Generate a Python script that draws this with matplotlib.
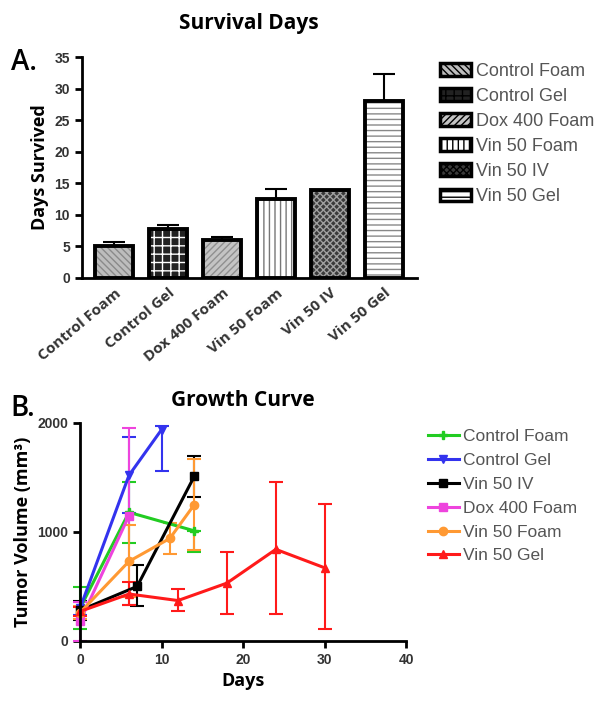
import numpy as np
import matplotlib
matplotlib.use("Agg")
import matplotlib.pyplot as plt
from matplotlib.patches import Rectangle
from matplotlib.lines import Line2D

# survival data
groups = ["Control Foam", "Control Gel", "Dox 400 Foam", "Vin 50 Foam", "Vin 50 IV", "Vin 50 Gel"]
days_mean = [5.0, 7.8, 6.0, 12.5, 14.0, 28.0]
days_err = [0.6, 0.5, 0.4, 1.6, 0.0, 4.3]
bar_face = ["#bdbdbd", "#222222", "#c4c4c4", "#ffffff", "#3a3a3a", "#ffffff"]
bar_hatch = ["\\\\\\\\\\", "++", "/////", "|||", "xxxxx", "---"]
bar_hatch_col = ["#8a8a8a", "#ffffff", "#8f8f8f", "#777777", "#a0a0a0", "#888888"]

# growth curve data
curve_names = ["Control Foam", "Control Gel", "Vin 50 IV", "Dox 400 Foam", "Vin 50 Foam", "Vin 50 Gel"]
curve_colors = ["#22cc22", "#3333ee", "#000000", "#ee44dd", "#ff9933", "#ff1a1a"]
curve_markers = ["P", "v", "s", "s", "o", "^"]
cf_x = [0, 6, 14]
cf_y = [300, 1180, 1010]
cf_lo = [190, 280, 190]
cf_hi = [190, 280, 0]
cg_x = [0, 6, 10]
cg_y = [300, 1520, 1940]
cg_lo = [60, 350, 380]
cg_hi = [60, 350, 30]
iv_x = [0, 7, 14]
iv_y = [280, 500, 1510]
iv_lo = [90, 180, 190]
iv_hi = [90, 200, 190]
dx_x = [0, 6]
dx_y = [180, 1150]
dx_lo = [180, 820]
dx_hi = [180, 800]
vf_x = [0, 6, 11, 14]
vf_y = [260, 730, 940, 1250]
vf_lo = [60, 330, 140, 420]
vf_hi = [60, 330, 140, 420]
vg_x = [0, 6, 12, 18, 24, 30]
vg_y = [270, 430, 370, 530, 840, 670]
vg_lo = [40, 100, 100, 280, 590, 560]
vg_hi = [40, 110, 110, 290, 620, 590]
curves = [(cf_x, cf_y, cf_lo, cf_hi), (cg_x, cg_y, cg_lo, cg_hi), (iv_x, iv_y, iv_lo, iv_hi),
          (dx_x, dx_y, dx_lo, dx_hi), (vf_x, vf_y, vf_lo, vf_hi), (vg_x, vg_y, vg_lo, vg_hi)]

title_font = "Open Sans"
tick_font = "Liberation Sans"

fig = plt.figure(figsize=(6.02, 7.05), dpi=100)

## A. survival bars
ax1 = fig.add_axes([0.136, 0.606, 0.556, 0.313])
x = np.arange(len(groups))
plt.rcParams["hatch.linewidth"] = 1.0
for i in range(len(groups)):
    ax1.bar(x[i], days_mean[i], width=0.7, color=bar_face[i], hatch=bar_hatch[i],
            edgecolor=bar_hatch_col[i], linewidth=0, zorder=2)
    ax1.bar(x[i], days_mean[i], width=0.7, fill=False, edgecolor="black", linewidth=2.8, zorder=3)
    if days_err[i] > 0:
        ax1.errorbar(x[i], days_mean[i], yerr=[[0], [days_err[i]]], fmt="none",
                     ecolor="black", elinewidth=1.5, capsize=8, capthick=1.5, zorder=1)
ax1.set_xlim(-0.6, 5.6)
ax1.set_ylim(0, 35)
ax1.set_yticks(range(0, 36, 5))
ax1.set_xticks(x)
ax1.set_xticklabels(groups, rotation=40, ha="right", rotation_mode="anchor",
                    fontsize=11, fontweight="bold", family=title_font, color="#333333")
for lbl in ax1.get_yticklabels():
    lbl.set_fontweight("bold")
    lbl.set_family(tick_font)
    lbl.set_fontsize(10)
    lbl.set_color("#333333")
ax1.spines["top"].set_visible(False)
ax1.spines["right"].set_visible(False)
ax1.spines["left"].set_linewidth(2)
ax1.spines["bottom"].set_linewidth(2)
ax1.tick_params(axis="y", width=2, length=5)
ax1.tick_params(axis="x", length=0, pad=6)
ax1.set_ylabel("Days Survived", fontsize=13, fontweight="bold", family=title_font)
ax1.set_title("Survival Days", fontsize=15, fontweight="bold", family=title_font, pad=20)

# legend for bars
handles = []
for i in range(len(groups)):
    handles.append(Rectangle((0, 0), 1, 1, facecolor=bar_face[i], hatch=bar_hatch[i],
                             edgecolor="black", linewidth=2.5))
leg1 = ax1.legend(handles, groups, loc="upper left", bbox_to_anchor=(1.069, 0.975),
                  frameon=False, borderpad=0, borderaxespad=0,
                  handlelength=1.75, handleheight=0.7, labelspacing=0.45,
                  handletextpad=0.25, prop={"family": tick_font, "size": 13})
for t in leg1.get_texts():
    t.set_color("#555555")

fig.text(0.018, 0.9, "A.", fontsize=20, family=title_font, fontweight="semibold")

## B. growth curve
ax2 = fig.add_axes([0.133, 0.091, 0.542, 0.309])
for (cx, cy, lo, hi), name, col, mk in zip(curves, curve_names, curve_colors, curve_markers):
    ax2.errorbar(cx, cy, yerr=[lo, hi], color=col, marker=mk, markersize=6, linewidth=2.2,
                 elinewidth=1.5, capsize=5, capthick=1.5, clip_on=False)
ax2.set_xlim(0, 40)
ax2.set_ylim(0, 2000)
ax2.set_xticks([0, 10, 20, 30, 40])
ax2.set_yticks([0, 1000, 2000])
for lbl in ax2.get_xticklabels() + ax2.get_yticklabels():
    lbl.set_fontweight("bold")
    lbl.set_family(tick_font)
    lbl.set_fontsize(10)
    lbl.set_color("#333333")
ax2.spines["top"].set_visible(False)
ax2.spines["right"].set_visible(False)
ax2.spines["left"].set_linewidth(2)
ax2.spines["bottom"].set_linewidth(2)
ax2.tick_params(width=2, length=5)
ax2.set_xlabel("Days", fontsize=13, fontweight="bold", family=title_font)
ax2.set_ylabel("Tumor Volume (mm³)", fontsize=13, fontweight="bold", family=title_font)
ax2.set_title("Growth Curve", fontsize=15, fontweight="bold", family=title_font, pad=12)
line_handles = [Line2D([], [], color=c, marker=m, markersize=6, linewidth=2.2)
                for c, m in zip(curve_colors, curve_markers)]
leg2 = ax2.legend(line_handles, curve_names, loc="upper left", bbox_to_anchor=(1.067, 0.972),
                  frameon=False, borderpad=0, borderaxespad=0,
                  handlelength=1.75, labelspacing=0.5, handletextpad=0.25,
                  prop={"family": tick_font, "size": 12.5})
for t in leg2.get_texts():
    t.set_color("#555555")

fig.text(0.018, 0.41, "B.", fontsize=20, family=title_font, fontweight="semibold")

plt.savefig("out.png", dpi=100)
